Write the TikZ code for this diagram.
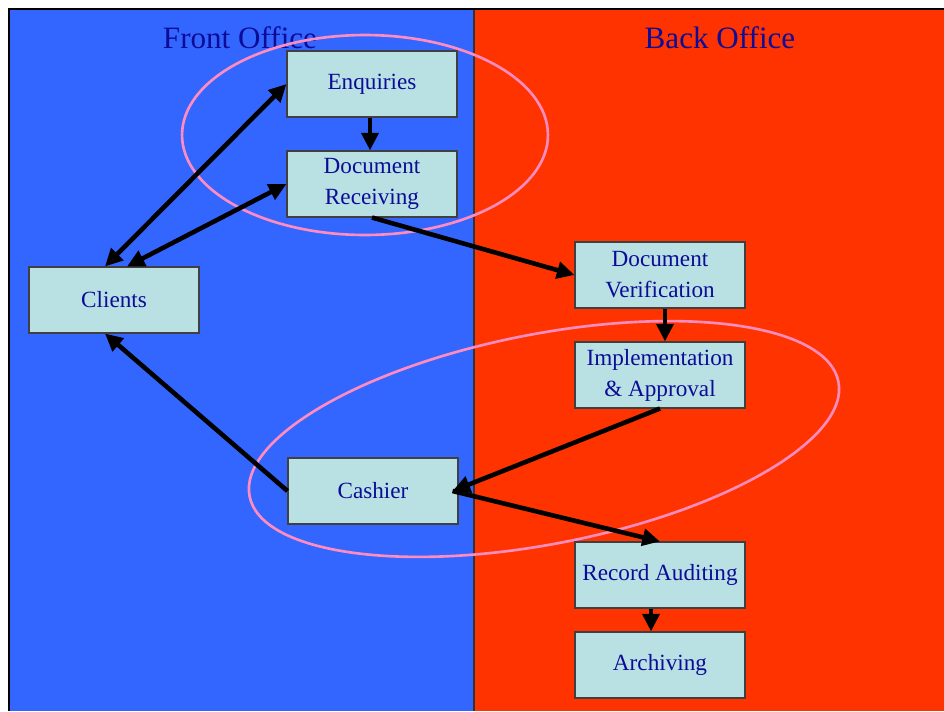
\documentclass[tikz,border=0pt]{standalone}
\usepackage{fontspec}
\setmainfont{Liberation Serif}
\usetikzlibrary{arrows.meta}

\definecolor{frontblue}{RGB}{51,102,255}
\definecolor{backred}{RGB}{255,51,0}
\definecolor{boxfill}{RGB}{185,224,227}
\definecolor{textnavy}{RGB}{12,12,150}
\definecolor{ringpink}{RGB}{255,140,190}

\tikzset{
    officebox/.style={draw=black!75, line width=0.6pt, fill=boxfill, text=textnavy,
        minimum width=3.4cm, minimum height=1.32cm, align=center,
        font=\fontsize{13.2pt}{17.6pt}\selectfont, inner sep=0pt},
    flow/.style={line width=2.6pt, -{Triangle[length=10pt,width=9.5pt]}},
    flowboth/.style={flow, {Triangle[length=10pt,width=9.5pt]}-{Triangle[length=10pt,width=9.5pt]}},
    ring/.style={draw=ringpink, line width=1.5pt},
    title/.style={text=textnavy, font=\fontsize{17.7pt}{20pt}\selectfont}
}

\begin{document}
\begin{tikzpicture}[x=0.02cm, y=-0.02cm]

    % Fix the page size
    \useasboundingbox (0,0) rectangle (944,711);

    % Draw the two office areas
    \fill[frontblue] (10,10) rectangle (474,711);
    \fill[backred] (474,10) rectangle (944,711);
    \draw[black!80, line width=0.6pt] (474,10) -- (474,711);
    \draw[black, line width=1.2pt] (9,711) -- (9,9) -- (944,9);

    % Add the area titles
    \node[title] (front) at (240,38) {Front Office};
    \node[title] (back) at (720,38) {Back Office};

    % Draw the two rings
    \draw[ring] (365,135) ellipse [x radius=3.66cm, y radius=2cm];
    \draw[ring, rotate around={11:(544,439)}] (544,439) ellipse [x radius=6cm, y radius=2.1cm];

    % Place the boxes
    \node[officebox] (enq) at (372,84) {Enquiries};
    \node[officebox] (drec) at (372,184) {Document\\Receiving};
    \node[officebox] (cli) at (114,300) {Clients};
    \node[officebox] (ver) at (660,275) {Document\\Verification};
    \node[officebox] (impl) at (660,375) {Implementation\\\& Approval};
    \node[officebox] (cash) at (373,491) {Cashier};
    \node[officebox] (aud) at (660,575) {Record Auditing};
    \node[officebox] (arch) at (660,665) {Archiving};

    % Draw the arrows
    \draw[flowboth] ([xshift=-0.18cm]cli.north) -- (enq.west);
    \draw[flowboth] ([xshift=0.26cm]cli.north) -- (drec.west);
    \draw[flow] ([xshift=-0.04cm]enq.south) -- ([xshift=-0.04cm]drec.north);
    \draw[flow] (drec.south) -- (ver.west);
    \draw[flow] ([xshift=0.1cm]ver.south) -- ([xshift=0.1cm]impl.north);
    \draw[flow] (impl.south) -- ([xshift=-0.12cm]cash.east);
    \draw[flow] (cash.west) -- ([xshift=-0.18cm]cli.south);
    \draw[flow] ([xshift=-0.12cm]cash.east) -- (aud.north);
    \draw[flow] ([xshift=-0.18cm]aud.south) -- ([xshift=-0.18cm]arch.north);

\end{tikzpicture}
\end{document}
